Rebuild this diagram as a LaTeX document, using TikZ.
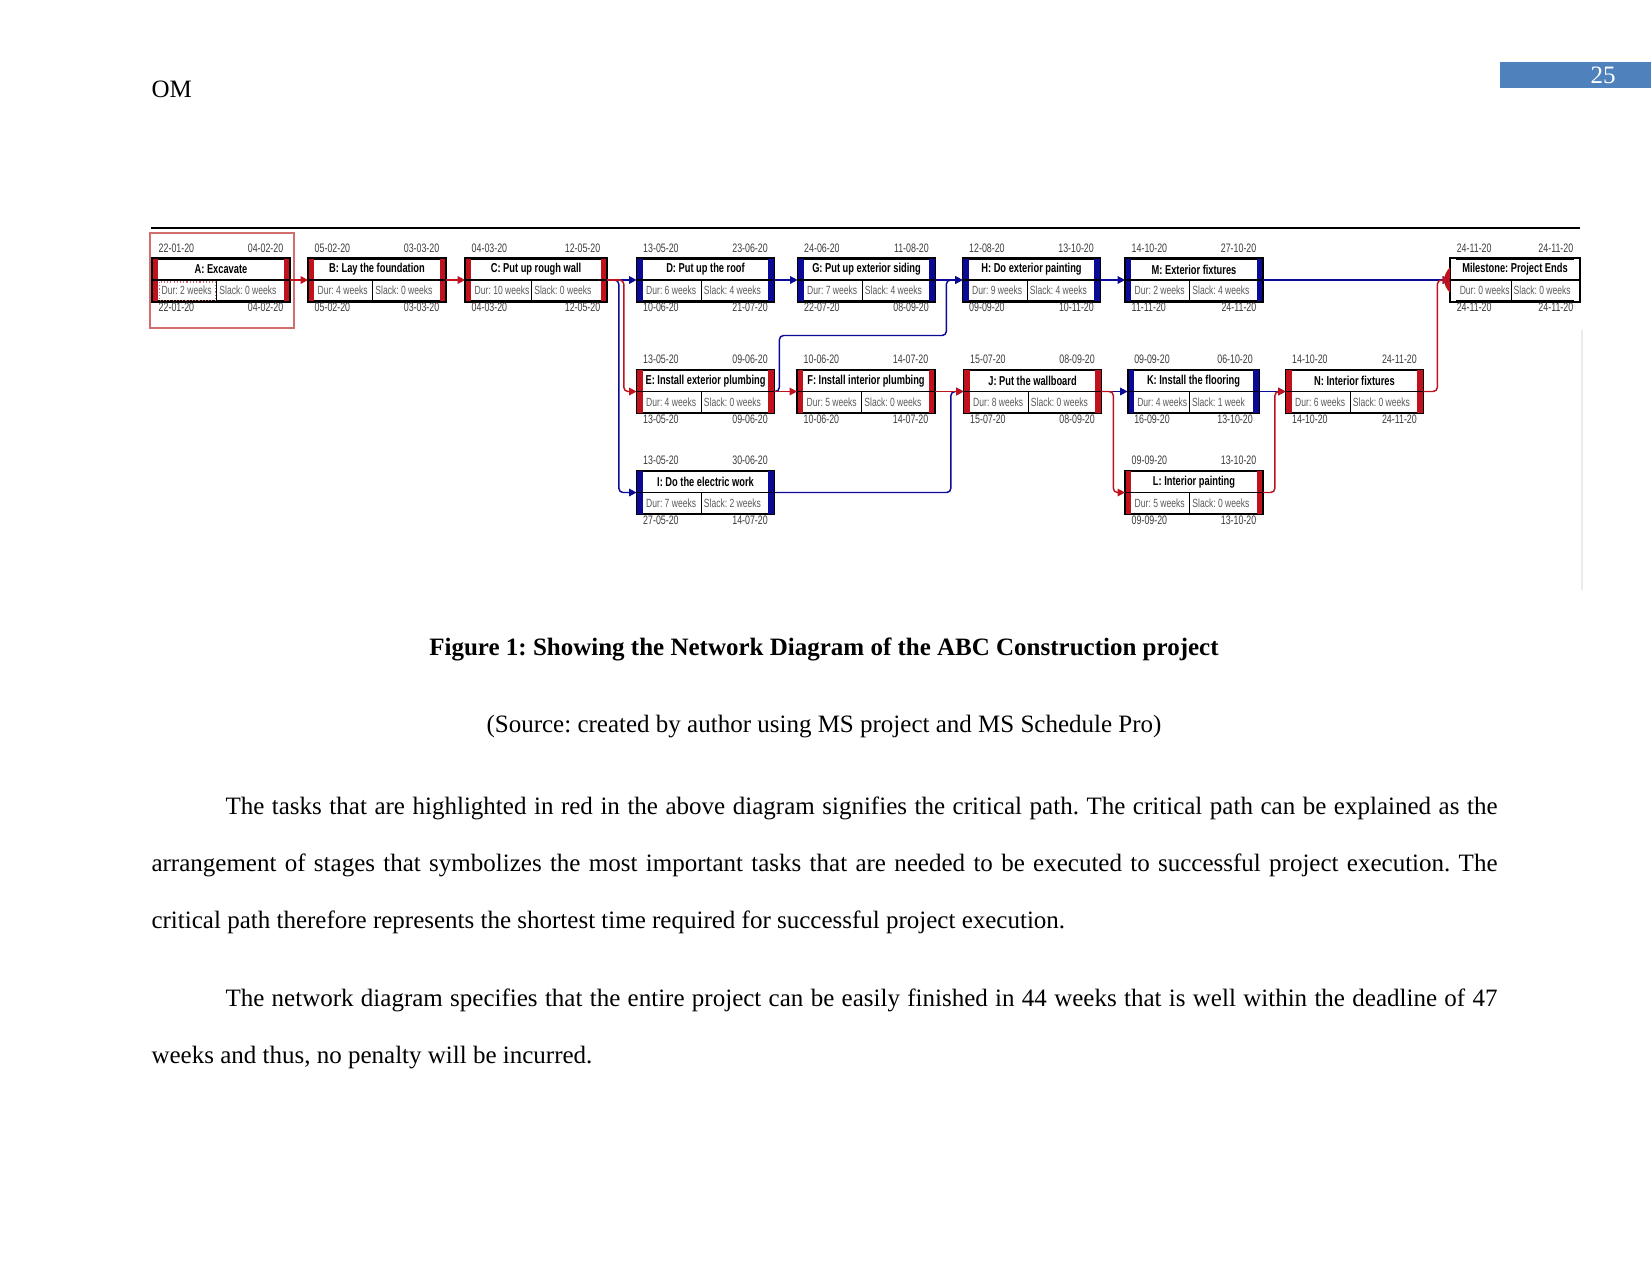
\documentclass[tikz,border=0pt]{standalone}
\usepackage{fontspec}
\setmainfont{Liberation Serif}
\newfontfamily\netfont[FakeStretch=0.72]{Liberation Sans}
\usetikzlibrary{arrows.meta,calc,positioning}
\frenchspacing

\definecolor{critred}{RGB}{192,18,28}
\definecolor{ncblue}{RGB}{10,10,150}
\definecolor{pagebox}{RGB}{79,129,189}
\definecolor{dategray}{RGB}{60,60,60}
\definecolor{cellgray}{RGB}{90,90,90}
\definecolor{focusred}{RGB}{210,110,110}

\tikzset{every picture/.style={line width=0.55pt}}
\tikzset{
  taskbox/.style={draw=black, line width=0.8pt, fill=white, minimum width=65.3pt, minimum height=20.2pt, inner sep=0pt},
  tasktitle/.style={font=\netfont\bfseries\fontsize{6.2}{6.5}\selectfont, inner sep=0pt},
  taskcell/.style={font=\netfont\fontsize{5.7}{6}\selectfont, text=cellgray, inner sep=0pt},
  datetext/.style={font=\netfont\fontsize{5.9}{6}\selectfont, text=dategray, inner sep=0pt},
  link/.style={line width=0.7pt, rounded corners=2pt, -{Triangle[length=3.6pt,width=3.6pt]}},
  crit/.style={link, draw=critred},
  noncrit/.style={link, draw=ncblue},
  pagetext/.style={inner sep=0pt, font=\fontsize{12pt}{14pt}\selectfont},
  para/.style={text width=646pt, align=justify, inner sep=0pt, anchor=north west, font=\fontsize{12pt}{27.4pt}\selectfont}
}

% task box: [width] name, centre, bar colour, title, duration, slack
\newcommand{\task}[7][65.3pt]{%
  \node[taskbox, minimum width=#1] (#2) at #3 {};
  \fill[#4] (#2.north west) rectangle ($(#2.south west)+(6,0)$);
  \fill[#4] (#2.north east) rectangle ($(#2.south east)+(-6,0)$);
  \draw[line width=0.8pt] (#2.north west) rectangle (#2.south east);
  \draw (#2.west) -- (#2.east);
  \draw ($(#2.west)!0.47!(#2.east)$) -- ($(#2.south west)!0.47!(#2.south east)$);
  \node[tasktitle] (#2t) at ($(#2.center)+(0,-10.5)$) {#5};
  \node[taskcell, anchor=west] (#2d) at ($(#2.west)+(9,10.5)$) {Dur: #6};
  \node[taskcell, anchor=west] (#2s) at ($(#2.west)!0.47!(#2.east)+(2,10.5)$) {Slack: #7};
}
% dates: name, early start, early finish, late start, late finish
\newcommand{\taskdates}[5]{%
  \node[datetext, anchor=base west] (#1es) at ($(#1.north west)+(6,-6)$) {#2};
  \node[datetext, anchor=base east] (#1ef) at ($(#1.north east)+(-6,-6)$) {#3};
  \node[datetext, anchor=base west] (#1ls) at ($(#1.south west)+(6,10)$) {#4};
  \node[datetext, anchor=base east] (#1lf) at ($(#1.south east)+(-6,10)$) {#5};
}

\begin{document}
\begin{tikzpicture}[x=0.48pt,y=0.48pt,yscale=-1,xscale=1]
\useasboundingbox (0,0) rectangle (1651,1275);

% header
\node[pagetext, anchor=west] (hdr) at (151,89) {OM};
\fill[pagebox] (1500,62) rectangle (1651,88);
\node[pagetext, text=white] (pgno) at (1603,75) {25};

% frame of the chart
\draw[line width=1pt] (151,228) -- (1580,228);
\draw[black!8] (1582,330) -- (1582,590);
\draw[focusred, line width=0.6pt] (150,233) rectangle (294,328);

% row 1
\task{A}{(221,280)}{critred}{A: Excavate}{2 weeks}{0 weeks}
\task{B}{(377,280)}{critred}{B: Lay the foundation}{4 weeks}{0 weeks}
\task[67.2pt]{C}{(536,280)}{critred}{C: Put up rough wall}{10 weeks}{0 weeks}
\task{D}{(705.5,280)}{ncblue}{D: Put up the roof}{6 weeks}{4 weeks}
\task{G}{(866.5,280)}{ncblue}{G: Put up exterior siding}{7 weeks}{4 weeks}
\task{H}{(1031.5,280)}{ncblue}{H: Do exterior painting}{9 weeks}{4 weeks}
\task{M}{(1194,280)}{ncblue}{M: Exterior fixtures}{2 weeks}{4 weeks}
\task[61.4pt]{MS}{(1515,280)}{white}{Milestone: Project Ends}{0 weeks}{0 weeks}
\draw[line width=1.1pt] (MS.north west) rectangle (MS.south east);
\fill[critred] ($(MS.west)+(0,-13)$) .. controls ($(MS.west)+(-8,-5)$) and ($(MS.west)+(-8,5)$) .. ($(MS.west)+(0,13)$) -- cycle;

% row 2
\task{E}{(705.5,391.5)}{critred}{E: Install exterior plumbing}{4 weeks}{0 weeks}
\task{F}{(866,391.5)}{critred}{F: Install interior plumbing}{5 weeks}{0 weeks}
\task{J}{(1032.5,391.5)}{critred}{J: Put the wallboard}{8 weeks}{0 weeks}
\task[62.4pt]{K}{(1193.5,391.5)}{ncblue}{K: Install the flooring}{4 weeks}{1 week}
\task{N}{(1354.5,391.5)}{critred}{N: Interior fixtures}{6 weeks}{0 weeks}

% row 3
\task{I}{(705.5,492.5)}{ncblue}{I: Do the electric work}{7 weeks}{2 weeks}
\task{L}{(1194,492.5)}{critred}{L: Interior painting}{5 weeks}{0 weeks}

% focus cell in A
\draw[densely dotted, focusred] ($(A.west)+(7,2)$) rectangle ($(A.south west)!0.47!(A.south east)+(-1,-1)$);

% dates
\taskdates{A}{22-01-20}{04-02-20}{22-01-20}{04-02-20}
\taskdates{B}{05-02-20}{03-03-20}{05-02-20}{03-03-20}
\taskdates{C}{04-03-20}{12-05-20}{04-03-20}{12-05-20}
\taskdates{D}{13-05-20}{23-06-20}{10-06-20}{21-07-20}
\taskdates{G}{24-06-20}{11-08-20}{22-07-20}{08-09-20}
\taskdates{H}{12-08-20}{13-10-20}{09-09-20}{10-11-20}
\taskdates{M}{14-10-20}{27-10-20}{11-11-20}{24-11-20}
\taskdates{MS}{24-11-20}{24-11-20}{24-11-20}{24-11-20}
\taskdates{E}{13-05-20}{09-06-20}{13-05-20}{09-06-20}
\taskdates{F}{10-06-20}{14-07-20}{10-06-20}{14-07-20}
\taskdates{J}{15-07-20}{08-09-20}{15-07-20}{08-09-20}
\taskdates{K}{09-09-20}{06-10-20}{16-09-20}{13-10-20}
\taskdates{N}{14-10-20}{24-11-20}{14-10-20}{24-11-20}
\taskdates{I}{13-05-20}{30-06-20}{27-05-20}{14-07-20}
\taskdates{L}{09-09-20}{13-10-20}{09-09-20}{13-10-20}

% links, non critical first
\draw[noncrit] (C.east) -- ++(12,0) |- (I.west);
\draw[noncrit] (C.east) -- (D.west);
\draw[noncrit] (D.east) -- (G.west);
\draw[noncrit] (G.east) -- (H.west);
\draw[noncrit] (H.east) -- (M.west);
\draw[noncrit] (M.east) -- (MS.west);
\draw[noncrit] (E.east) -- ++(5,0) -- ++(0,-56) -| ($(G.east)+(11,0)$) -- (H.west);
\draw[noncrit] (I.east) -| ($(F.east)+(16,0)$) -- (J.west);
\draw[noncrit] (J.east) -- (K.west);
\draw[noncrit] (K.east) -- (N.west);

% critical path
\draw[crit] (A.east) -- (B.west);
\draw[crit] (B.east) -- (C.west);
\draw[crit] (C.east) -- ++(17,0) |- (E.west);
\draw[crit, -] (C.east) -- ++(14,0);
\draw[crit] (E.east) -- (F.west);
\draw[crit] (F.east) -- (J.west);
\draw[crit] (J.east) -- ++(12,0) |- (L.west);
\draw[crit, -] (J.east) -- ++(12,0);
\draw[crit] (L.east) -- ++(12,0) |- (N.west);
\draw[crit] (N.east) -- ++(14,0) |- (MS.west);

% caption and text
\node[pagetext, font=\bfseries\fontsize{12pt}{14pt}\selectfont] (cap) at (824,649) {Figure 1: Showing the Network Diagram of the ABC Construction project};
\node[pagetext] (src) at (824,727) {(Source: created by author using MS project and MS Schedule Pro)};
\node[para] (p1) at (151,796) {\hspace*{35.5pt}The tasks that are highlighted in red in the above diagram signifies the critical path. The critical path can be explained as the\linebreak arrangement of stages that symbolizes the most important tasks that are needed to be executed to successful project execution. The\linebreak critical path therefore represents the shortest time required for successful project execution.};
\node[para] (p2) at (151,988) {\hspace*{35.5pt}The network diagram specifies that the entire project can be easily finished in 44 weeks that is well within the deadline of 47\linebreak weeks and thus, no penalty will be incurred.};
\end{tikzpicture}
\end{document}
